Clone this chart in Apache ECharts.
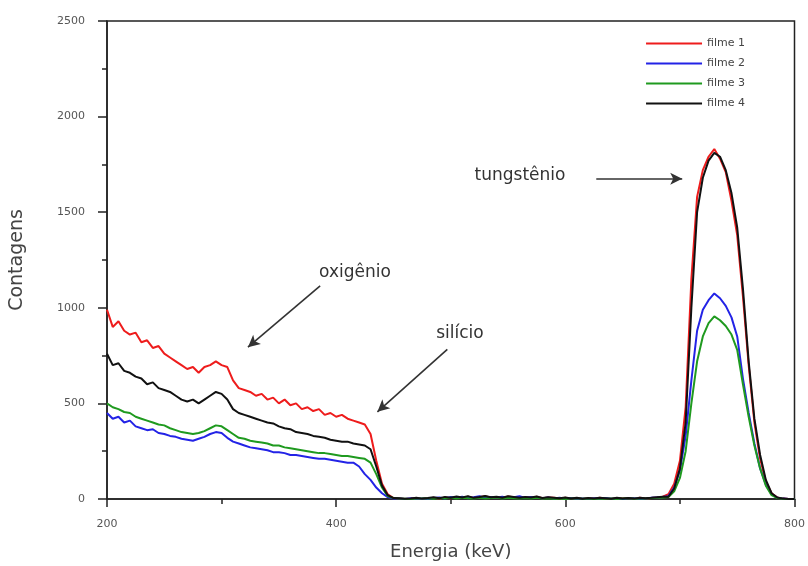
<!DOCTYPE html>
<html>
<head>
<meta charset="utf-8">
<script src="https://cdn.jsdelivr.net/npm/echarts@6/dist/echarts.min.js"></script>
<style>html,body{margin:0;padding:0;background:#fff;}#c{width:808px;height:566px;}</style>
</head>
<body>
<div id="c"></div>
<script>
const energies = [200,205,210,215,220,225,230,235,240,245,250,255,260,265,270,275,280,285,290,295,300,305,310,315,320,325,330,335,340,345,350,355,360,365,370,375,380,385,390,395,400,405,410,415,420,425,430,435,440,445,450,
455,460,465,470,475,480,485,490,495,500,505,510,515,520,525,530,535,540,545,550,555,560,565,570,575,580,585,590,595,600,605,610,615,620,625,630,635,640,645,650,655,660,665,670,675,680,685,
690,695,700,705,710,715,720,725,730,735,740,745,750,755,760,765,770,775,780,785,790,795,800];

const filme1 = [990,900,930,880,860,870,820,830,790,800,760,740,720,700,680,690,660,690,700,720,700,690,620,580,570,560,540,550,520,530,500,520,490,500,470,480,460,470,440,450,430,440,420,410,400,390,340,200,80,25,5,
3,0,2,5,0,3,6,2,8,4,10,6,12,5,9,14,7,11,6,13,9,5,10,7,12,4,8,6,3,7,2,5,0,4,2,6,3,0,5,2,4,1,6,3,5,8,12,
25,80,200,480,1150,1580,1720,1790,1830,1780,1710,1560,1380,1060,700,400,210,90,30,8,2,0,0];

const filme2 = [450,420,430,400,410,380,370,360,365,345,340,330,325,315,310,305,315,325,340,350,345,320,300,290,280,270,265,260,255,245,245,240,230,230,225,220,215,210,210,205,200,195,190,190,170,130,100,60,30,10,3,
2,0,4,1,3,0,5,8,3,10,6,12,4,9,15,6,10,8,12,5,9,14,6,10,7,4,8,3,6,2,5,1,3,0,4,2,5,1,3,0,2,4,1,3,6,8,10,
15,60,150,330,620,880,990,1040,1075,1050,1010,950,850,630,450,290,160,75,25,6,2,0,0];

const filme3 = [500,480,470,455,450,430,420,410,400,390,385,370,360,350,345,340,345,355,370,385,380,360,340,320,315,305,300,295,290,280,280,270,265,260,255,250,245,240,240,235,230,225,225,220,215,210,190,130,60,15,5,
2,1,0,3,2,4,1,5,3,6,2,7,4,3,6,2,5,8,3,6,4,2,5,3,7,2,4,1,3,0,2,4,1,3,0,2,1,3,0,2,4,1,3,2,5,6,8,
10,40,110,250,500,720,850,920,955,935,905,860,780,600,430,280,160,70,20,5,1,0,0];

const filme4 = [760,700,710,670,660,640,630,600,610,580,570,560,540,520,510,520,500,520,540,560,550,520,470,450,440,430,420,410,400,395,380,370,365,350,345,340,330,325,320,310,305,300,300,290,285,280,260,170,70,20,5,
4,1,3,6,2,5,9,4,11,7,13,8,15,6,10,16,9,12,7,14,10,6,11,8,13,5,9,7,4,8,3,6,1,5,3,7,4,1,6,3,5,2,7,4,6,9,12,
12,55,160,400,1000,1500,1680,1770,1810,1790,1720,1600,1420,1100,720,420,230,100,30,8,2,0,0];

const seriesNames = ['filme 1','filme 2','filme 3','filme 4'];
const seriesValues = [filme1, filme2, filme3, filme4];
const seriesColors = ['#ee1c1c','#2323e6','#1f9a1f','#111111'];

// annotation arrows in data units: [x0,y0,x1,y1]
const arrows = [[386,1115,323,794],[497,783,436,456],[627,1675,702,1675]];
const annotations = ['oxigênio','silício','tungstênio'];

const chart = echarts.init(document.getElementById('c'), null, {renderer:'canvas'});
const axisCol = '#222';
const series = seriesNames.map((n,i)=>({
  name:n, type:'line', symbol:'none', showSymbol:false, smooth:false,
  data: energies.map((e,k)=>[e, seriesValues[i][k]]),
  lineStyle:{color:seriesColors[i], width:2},
  itemStyle:{color:seriesColors[i]},
  z: 2+i
}));
series[3].markLine = {
  silent:true, symbol:['none','arrow'], symbolSize:[9,12],
  lineStyle:{color:'#333', width:1.6, type:'solid'},
  label:{show:false},
  data: arrows.map(a=>[{coord:[a[0],a[1]]},{coord:[a[2],a[3]]}])
};

chart.setOption({
  animation:false,
  backgroundColor:'#fff',
  textStyle:{fontFamily:'DejaVu Sans'},
  grid:{left:107,right:13,top:21,bottom:63,show:true,borderColor:axisCol,borderWidth:1.5,backgroundColor:'transparent'},
  legend:{
    data:seriesNames.map((n,i)=>({name:n, icon:'rect', itemStyle:{color:seriesColors[i]}})),
    orient:'vertical', right:58, top:32,
    itemWidth:56, itemHeight:2, itemGap:7,
    textStyle:{fontSize:11,color:'#444',fontFamily:'DejaVu Sans',lineHeight:13}
  },
  xAxis:{
    type:'value', min:200, max:800, interval:200,
    axisLine:{onZero:false,lineStyle:{color:axisCol,width:1.5}},
    axisTick:{length:8,lineStyle:{color:axisCol,width:1.5}},
    minorTick:{show:true,splitNumber:2,length:5,lineStyle:{color:axisCol,width:1.5}},
    splitLine:{show:false},
    axisLabel:{fontSize:11,color:'#555',margin:20,formatter:v=>String(v)},
    name:'Energia (keV)', nameLocation:'middle', nameGap:44,
    nameTextStyle:{fontSize:18,color:'#444'}
  },
  yAxis:{
    type:'value', min:0, max:2500, interval:500,
    axisLine:{lineStyle:{color:axisCol,width:1.5}},
    axisTick:{length:9,lineStyle:{color:axisCol,width:1.5}},
    minorTick:{show:true,splitNumber:2,length:5,lineStyle:{color:axisCol,width:1.5}},
    splitLine:{show:false},
    axisLabel:{fontSize:11,color:'#555',margin:22,formatter:v=>String(v)},
    name:'Contagens', nameLocation:'middle', nameGap:80,
    nameTextStyle:{fontSize:19,color:'#444'}
  },
  graphic:[
    {type:'text', x:355, y:273, style:{text:annotations[0], align:'center', verticalAlign:'middle', fontSize:17, fontFamily:'DejaVu Sans', fill:'#333'}},
    {type:'text', x:460, y:334, style:{text:annotations[1], align:'center', verticalAlign:'middle', fontSize:17, fontFamily:'DejaVu Sans', fill:'#333'}},
    {type:'text', x:520, y:176, style:{text:annotations[2], align:'center', verticalAlign:'middle', fontSize:17, fontFamily:'DejaVu Sans', fill:'#333'}}
  ],
  series: series
});
</script>
</body>
</html>
